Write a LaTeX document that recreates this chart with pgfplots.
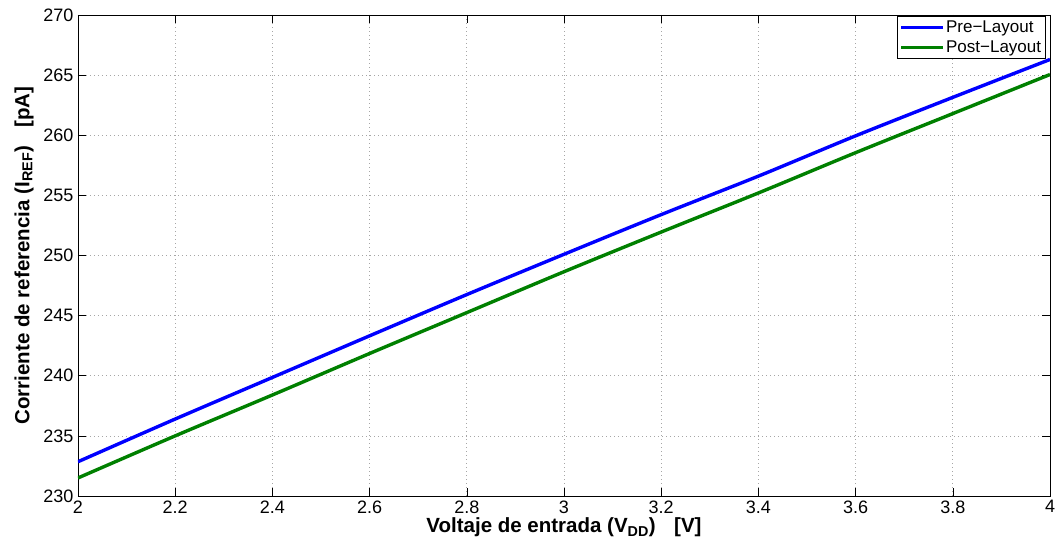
\documentclass[border=0pt]{standalone}
\usepackage{fontspec}
\setmainfont{Liberation Sans}
\usepackage{pgfplots}
\pgfplotsset{compat=1.18}

% Reference current vs. supply voltage, before and after layout extraction
\pgfplotstableread{
vdd   iref
2.0   232.85
2.2   236.40
2.4   239.86
2.6   243.32
2.8   246.75
3.0   250.10
3.2   253.40
3.4   256.60
3.6   259.95
3.8   263.15
4.0   266.30
}\prelayout

\pgfplotstableread{
vdd   iref
2.0   231.50
2.2   235.00
2.4   238.40
2.6   241.85
2.8   245.25
3.0   248.65
3.2   251.95
3.4   255.20
3.6   258.55
3.8   261.80
4.0   265.05
}\postlayout

\definecolor{mblue}{rgb}{0,0,1}
\definecolor{mgreen}{rgb}{0,0.5,0}

\begin{document}
\begin{tikzpicture}
\begin{axis}[
  scale only axis,
  width=972pt, height=481pt,
  xmin=2, xmax=4, ymin=230, ymax=270,
  xtick={2,2.2,...,4.01},
  ytick={230,235,...,270},
  xticklabels={2,2.2,2.4,2.6,2.8,3,3.2,3.4,3.6,3.8,4},
  tick align=inside,
  major tick length=8pt,
  tick style={black, line width=0.6pt},
  axis line style={black, line width=0.8pt},
  grid=major,
  major grid style={gray!70, line width=0.7pt, dash pattern=on 0.8pt off 3.2pt},
  /pgf/number format/assume math mode=true,
  ticklabel style={font=\fontsize{18}{20}\selectfont},
  xticklabel style={yshift=-1pt},
  yticklabel style={xshift=-1pt},
  xlabel={\textbf{Voltaje de entrada (V\textsubscript{DD})\hspace{0.9em}[V]}},
  ylabel={\textbf{Corriente de referencia (I\textsubscript{REF})\hspace{0.9em}[pA]}},
  label style={font=\fontsize{20.5}{22}\selectfont},
  xlabel style={at={(axis description cs:0.5,0)}, anchor=base, yshift=-37pt},
  ylabel style={at={([xshift=-54pt]axis description cs:0,0.5)}, anchor=center},
  legend style={
    at={(rel axis cs:1,1)}, anchor=north east,
    xshift=-4pt, yshift=-1pt,
    draw=black, line width=0.8pt,
    inner sep=2.5pt, row sep=3pt,
    nodes={font=\fontsize{17}{19}\selectfont, inner sep=2pt},
    cells={anchor=west},
  },
  legend image code/.code={\draw[#1, line width=3pt] (0cm,0cm) -- (1.45cm,0cm);},
]
\addplot[mblue, line width=3.4pt, smooth] table[x=vdd, y=iref] {\prelayout};
\addlegendentry{Pre−Layout}
\addplot[mgreen, line width=3.4pt, smooth] table[x=vdd, y=iref] {\postlayout};
\addlegendentry{Post−Layout}
\end{axis}
\pgfresetboundingbox
\path (-78pt,-47pt) rectangle (980pt,496pt);
\end{tikzpicture}
\end{document}
